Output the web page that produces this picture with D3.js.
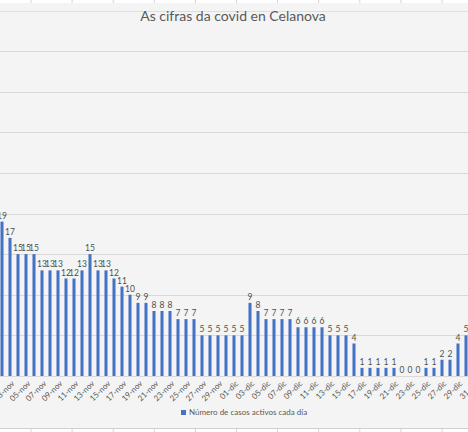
<!DOCTYPE html>
<html>
<head>
<meta charset="utf-8">
<script src="https://cdn.jsdelivr.net/npm/d3@7"></script>
<style>
  body { margin: 0; background: #f4f4f4; }
  svg { display: block; }
</style>
</head>
<body>
<div id="chart"></div>
<script>
// data (01-nov and 31-dic fall outside the crop)
var dates = ["01-nov","02-nov","03-nov","04-nov","05-nov","06-nov","07-nov","08-nov","09-nov","10-nov",
  "11-nov","12-nov","13-nov","14-nov","15-nov","16-nov","17-nov","18-nov","19-nov","20-nov",
  "21-nov","22-nov","23-nov","24-nov","25-nov","26-nov","27-nov","28-nov","29-nov","30-nov",
  "01-dic","02-dic","03-dic","04-dic","05-dic","06-dic","07-dic","08-dic","09-dic","10-dic",
  "11-dic","12-dic","13-dic","14-dic","15-dic","16-dic","17-dic","18-dic","19-dic","20-dic",
  "21-dic","22-dic","23-dic","24-dic","25-dic","26-dic","27-dic","28-dic","29-dic","30-dic","31-dic"];
var activeCases = [null,19,17,15,15,15,13,13,13,12,
  12,13,15,13,13,12,11,10,9,9,
  8,8,8,7,7,7,5,5,5,5,
  5,5,9,8,7,7,7,7,6,6,
  6,6,5,5,5,4,1,1,1,1,
  1,0,0,0,1,1,2,2,4,5,null];
var yTicks = [0,5,10,15,20,25,30,35,40];
var seriesName = "Número de casos activos cada día";
var chartTitle = "As cifras da covid en Celanova";

var svgWidth = 468, svgHeight = 432;
var baseY = 376, topY = 51;

var rows = dates.map(function(d, i){ return {date: d, value: activeCases[i], i: i}; });

var svg = d3.select("#chart").append("svg").attr("width", svgWidth).attr("height", svgHeight);

// chart background
svg.append("rect").attr("x",0).attr("y",0).attr("width",svgWidth).attr("height",svgHeight).attr("fill","#f4f4f4");

// spreadsheet strips at top and bottom
var cellLines = d3.range(31, svgWidth, 41.1);
[[0,3],[429,432]].forEach(function(b){
  svg.append("rect").attr("x",0).attr("y",b[0]).attr("width",svgWidth).attr("height",b[1]-b[0]).attr("fill","#ffffff");
  svg.selectAll(null).data(cellLines).enter().append("line")
    .attr("x1", d=>d).attr("x2", d=>d).attr("y1", b[0]).attr("y2", b[1])
    .attr("stroke","#d4d4d4");
});
svg.append("line").attr("x1",0).attr("x2",svgWidth).attr("y1",428.5).attr("y2",428.5).attr("stroke","#d0d0d0");
svg.append("line").attr("x1",0).attr("x2",svgWidth).attr("y1",11.5).attr("y2",11.5).attr("stroke","#dedede");

var xScale = d3.scaleBand().domain(dates).range([-10, 478]).paddingInner(0.62).paddingOuter(0.31);
var yScale = d3.scaleLinear().domain([0, 40]).range([baseY, topY]);

// gridlines
svg.selectAll(".grid").data(yTicks).enter().append("line")
  .attr("class","grid")
  .attr("x1",0).attr("x2",svgWidth)
  .attr("y1", d => Math.round(yScale(d)) + 0.5).attr("y2", d => Math.round(yScale(d)) + 0.5)
  .attr("stroke","#d9d9d9").attr("stroke-width",1);

// bars
var shown = rows.filter(d => d.value !== null);
svg.selectAll(".bar").data(shown).enter().append("rect")
  .attr("class","bar")
  .attr("x", d => xScale(d.date))
  .attr("width", xScale.bandwidth())
  .attr("y", d => yScale(d.value))
  .attr("height", d => baseY - yScale(d.value))
  .attr("fill","#4472c4");

// data labels
svg.selectAll(".lbl").data(shown).enter().append("text")
  .attr("class","lbl")
  .attr("x", d => xScale(d.date) + xScale.bandwidth()/2)
  .attr("y", d => yScale(d.value) - 3)
  .attr("text-anchor","middle")
  .attr("font-family","Lato, 'Open Sans', sans-serif")
  .attr("font-size","8.5px")
  .attr("fill","#505050")
  .text(d => d.value);

// category labels, every other day
svg.selectAll(".xl").data(rows.filter(d => d.i % 2 === 0)).enter().append("text")
  .attr("class","xl")
  .attr("transform", d => "translate(" + (xScale(d.date) + xScale.bandwidth()/2 + 1) + "," + (baseY + 4) + ") rotate(-45)")
  .attr("dy","0.7em")
  .attr("text-anchor","end")
  .attr("font-family","Lato, 'Open Sans', sans-serif")
  .attr("font-size","8px")
  .attr("fill","#595959")
  .text(d => d.date);

// title
svg.append("text")
  .attr("x", 233).attr("y", 21)
  .attr("text-anchor","middle")
  .attr("font-family","Lato, 'Open Sans', sans-serif")
  .attr("font-size","14px")
  .attr("fill","#595959")
  .text(chartTitle);

// legend
var legend = svg.append("g").attr("transform","translate(181,415)");
legend.append("rect").attr("x",0).attr("y",-5).attr("width",5).attr("height",5).attr("fill","#4472c4");
legend.append("text")
  .attr("x",8).attr("y",0)
  .attr("font-family","Lato, 'Open Sans', sans-serif")
  .attr("font-size","8px")
  .attr("fill","#595959")
  .text(seriesName);
</script>
</body>
</html>
